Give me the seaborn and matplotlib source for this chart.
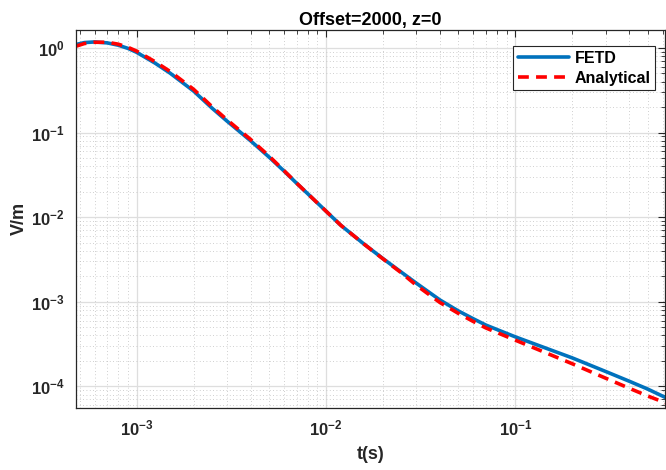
#!/usr/bin/env python3
"""FETD vs analytical transient response, log-log, MATLAB-like styling."""

import pandas as pd
import numpy as np
import matplotlib
matplotlib.use('Agg')
import matplotlib.pyplot as plt
import matplotlib.ticker as mticker
import seaborn as sns

# values
t_fetd = [4.78e-4, 5.3e-4, 6.0e-4, 7.0e-4, 8.0e-4, 9.0e-4, 1.0e-3, 1.25e-3, 1.5e-3,
          2.0e-3, 2.5e-3, 3.0e-3, 4.0e-3, 5.0e-3, 6.0e-3, 7.0e-3, 8.0e-3, 1.0e-2,
          1.2e-2, 1.6e-2, 2.0e-2, 2.5e-2, 3.0e-2, 4.0e-2, 5.0e-2, 6.0e-2, 7.0e-2,
          8.0e-2, 1.0e-1, 2.0e-1, 3.0e-1, 4.0e-1, 5.0e-1, 6.2e-1]
v_fetd = [1.10, 1.16, 1.18, 1.15, 1.08, 0.99, 0.89, 0.664, 0.506,
          0.31, 0.195, 0.137, 0.080, 0.0515, 0.0352, 0.0252, 0.0190, 0.0118,
          8.0e-3, 4.75e-3, 3.24e-3, 2.24e-3, 1.66e-3, 1.05e-3, 7.8e-4, 6.3e-4, 5.3e-4,
          4.7e-4, 3.85e-4, 2.17e-4, 1.50e-4, 1.15e-4, 9.3e-5, 7.4e-5]

t_anal = [4.78e-4, 5.3e-4, 6.0e-4, 7.0e-4, 8.0e-4, 9.0e-4, 1.0e-3, 1.25e-3, 1.5e-3,
          2.0e-3, 2.5e-3, 3.0e-3, 4.0e-3, 5.0e-3, 6.0e-3, 7.0e-3, 8.0e-3, 1.0e-2,
          1.2e-2, 1.6e-2, 2.0e-2, 2.5e-2, 3.0e-2, 4.0e-2, 5.0e-2, 6.0e-2, 7.0e-2,
          8.0e-2, 1.0e-1, 2.0e-1, 3.0e-1, 4.0e-1, 5.0e-1, 6.2e-1]
v_anal = [1.05, 1.13, 1.17, 1.17, 1.11, 1.02, 0.92, 0.69, 0.53,
          0.325, 0.203, 0.142, 0.083, 0.053, 0.0356, 0.0253, 0.0190, 0.0118,
          8.0e-3, 4.75e-3, 3.22e-3, 2.2e-3, 1.57e-3, 9.8e-4, 7.3e-4, 5.85e-4, 4.9e-4,
          4.33e-4, 3.52e-4, 1.85e-4, 1.25e-4, 9.5e-5, 7.7e-5, 6.4e-5]

title = 'Offset=2000, z=0'
x_label = 't(s)'
y_label = 'V/m'

df = pd.concat([
    pd.DataFrame({'t': t_fetd, 'v': v_fetd, 'series': 'FETD'}),
    pd.DataFrame({'t': t_anal, 'v': v_anal, 'series': 'Analytical'}),
], ignore_index=True)

sns.set_theme(style='white')
plt.rcParams['font.family'] = ['Liberation Sans', 'DejaVu Sans']
plt.rcParams['font.weight'] = 'bold'
plt.rcParams['mathtext.fontset'] = 'custom'
plt.rcParams['mathtext.rm'] = 'Liberation Sans:bold'
plt.rcParams['mathtext.bf'] = 'Liberation Sans:bold'
plt.rcParams['mathtext.default'] = 'bf'

fig = plt.figure(figsize=(6.66, 4.70), dpi=100)
ax = fig.add_axes([0.114, 0.1326, 0.885, 0.8034])

sns.lineplot(data=df, x='t', y='v', hue='series', style='series',
             palette={'FETD': '#0072BD', 'Analytical': '#FF0000'},
             dashes={'FETD': '', 'Analytical': (3, 2)},
             linewidth=2.6, ax=ax, sort=False)

ax.set_xscale('log')
ax.set_yscale('log')
ax.set_xlim(4.78e-4, 0.62)
ax.set_ylim(5.6e-5, 1.63)

ax.xaxis.set_major_locator(mticker.LogLocator(base=10, numticks=10))
ax.yaxis.set_major_locator(mticker.LogLocator(base=10, numticks=10))
ax.xaxis.set_minor_locator(mticker.LogLocator(base=10, subs=np.arange(2, 10), numticks=20))
ax.yaxis.set_minor_locator(mticker.LogLocator(base=10, subs=np.arange(2, 10), numticks=20))
ax.xaxis.set_minor_formatter(mticker.NullFormatter())
ax.yaxis.set_minor_formatter(mticker.NullFormatter())

ax.grid(True, which='major', color='#dedede', linewidth=0.9, linestyle='-')
ax.grid(True, which='minor', color='#c0c0c0', linewidth=0.6, linestyle=(0, (1, 3)))
ax.set_axisbelow(True)

ax.tick_params(which='both', direction='in', top=True, right=True, colors='#262626',
               labelcolor='#262626')
ax.tick_params(which='major', length=5, width=0.8, labelsize=12, pad=8)
ax.tick_params(which='minor', length=3, width=0.6)
for s in ax.spines.values():
    s.set_color('#262626')
    s.set_linewidth(0.9)

ax.set_title(title, fontsize=13, fontweight='bold', color='#000000', pad=4)
ax.set_xlabel(x_label, fontsize=13, fontweight='bold', color='#262626', labelpad=5)
ax.set_ylabel(y_label, fontsize=13, fontweight='bold', color='#262626', labelpad=2)

leg = ax.legend(loc='upper right', bbox_to_anchor=(0.983, 0.958), fancybox=False,
                framealpha=1, edgecolor='#262626', fontsize=11.5, handlelength=3.2,
                borderpad=0.3, labelspacing=0.3, handletextpad=0.35, borderaxespad=0)
leg.get_frame().set_linewidth(0.8)
for txt in leg.get_texts():
    txt.set_fontweight('bold')
    txt.set_color('#000000')

fig.savefig('out.png', dpi=100)
plt.close(fig)
